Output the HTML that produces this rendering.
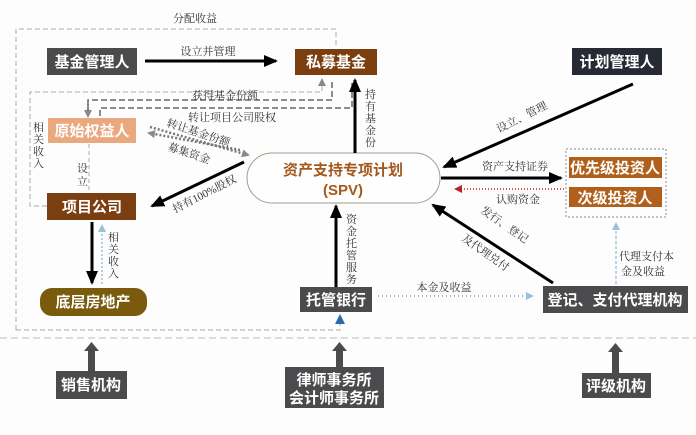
<!DOCTYPE html>
<html><head><meta charset="utf-8"><style>
html,body{margin:0;padding:0;background:#fdfdfd;}
svg{display:block;font-family:"Liberation Serif","Noto Serif CJK SC",serif;}
.b{font-family:"Liberation Sans","Noto Sans CJK SC",sans-serif;font-weight:bold;fill:#fff;font-size:15px;text-anchor:middle;}
.l{font-size:11px;fill:#333;}
</style></head><body>
<svg width="696" height="435" viewBox="0 0 696 435" xmlns="http://www.w3.org/2000/svg">
<defs>
<marker id="ab" markerWidth="14" markerHeight="12" refX="12" refY="6" orient="auto" markerUnits="userSpaceOnUse"><path d="M0,0 L14,6 L0,12 z" fill="#000"/></marker>
<marker id="ag" markerWidth="8" markerHeight="8" refX="6" refY="4" orient="auto" markerUnits="userSpaceOnUse"><path d="M0,0 L8,4 L0,8 z" fill="#888"/></marker>
<marker id="ar" markerWidth="8" markerHeight="8" refX="6" refY="4" orient="auto" markerUnits="userSpaceOnUse"><path d="M0,0 L8,4 L0,8 z" fill="#c02020"/></marker>
<marker id="al" markerWidth="8" markerHeight="8" refX="6" refY="4" orient="auto" markerUnits="userSpaceOnUse"><path d="M0,0 L8,4 L0,8 z" fill="#9cc0d8"/></marker>
<marker id="abl" markerWidth="10" markerHeight="10" refX="8" refY="5" orient="auto" markerUnits="userSpaceOnUse"><path d="M0,0 L10,5 L0,10 z" fill="#2a6aa8"/></marker>
</defs>

<path d="M16,330 L16,29 L336,29 L336,46" fill="none" stroke="#aaa" stroke-dasharray="5,3"/>
<path d="M16,330 L340,330 L340,318" fill="none" stroke="#aaa" stroke-dasharray="5,3"/>
<path d="M340,322 L340,316" stroke="#2a6aa8" stroke-width="1.5" marker-end="url(#abl)"/>
<text x="195" y="22" class="l" text-anchor="middle">分配收益</text>
<line x1="0" y1="338" x2="696" y2="338" stroke="#bbb" stroke-dasharray="7,4"/>

<path d="M47,206 L30,206 L30,92 L322,92 L322,80" fill="none" stroke="#aaa" stroke-dasharray="5,3" marker-end="url(#ag)"/>
<path d="M88,114 L88,100 L332,100 L332,80" fill="none" stroke="#666" stroke-dasharray="6,3" stroke-width="1.5"/>
<path d="M88,104 L88,116" stroke="#666" stroke-width="1.5" marker-end="url(#ag)"/>
<path d="M100,116 L100,108 L352,108 L352,80" fill="none" stroke="#666" stroke-dasharray="6,3" stroke-width="1.5"/>
<text x="225" y="99" class="l" text-anchor="middle">获得基金份额</text>
<text class="l"><tspan x="33" y="131">相</tspan><tspan x="33" y="143">关</tspan><tspan x="33" y="155">收</tspan><tspan x="33" y="167">入</tspan></text>
<line x1="89" y1="144" x2="89" y2="193" stroke="#aaa" stroke-dasharray="4,3"/>
<text class="l"><tspan x="77" y="172">设</tspan><tspan x="77" y="185">立</tspan></text>

<rect x="47" y="48" width="90" height="27" fill="#4b4b4d"/><text x="92" y="67" class="b">基金管理人</text>
<rect x="295" y="49" width="82" height="26" fill="#7a3e10"/><text x="336" y="67" class="b">私募基金</text>
<rect x="572" y="48" width="90" height="27" fill="#262a33"/><text x="617" y="67" class="b">计划管理人</text>
<rect x="48" y="118" width="88" height="25" fill="#e9a87d"/><text x="92" y="136" class="b">原始权益人</text>
<rect x="47" y="193" width="89" height="27" fill="#7a3e10"/><text x="92" y="212" class="b">项目公司</text>
<rect x="247" y="153" width="193" height="50" rx="25" fill="#fefefe" stroke="#a89a88"/>
<text x="343" y="175" class="b" style="fill:#a4581c;font-size:15px">资产支持专项计划</text>
<text x="343" y="195" class="b" style="fill:#a4581c;font-size:15px">(SPV)</text>
<rect x="566" y="149" width="100" height="68" fill="none" stroke="#888" stroke-dasharray="2,2"/>
<rect x="569" y="157" width="93" height="21" fill="#b0601a"/><text x="615" y="173" class="b">优先级投资人</text>
<rect x="569" y="187" width="93" height="20" fill="#b0601a"/><text x="615" y="203" class="b">次级投资人</text>
<rect x="40" y="288" width="107" height="28" rx="12" fill="#7a5a0c"/><text x="93" y="307" class="b">底层房地产</text>
<rect x="300" y="287" width="72" height="25" fill="#4b4b4d"/><text x="336" y="305" class="b">托管银行</text>
<rect x="543" y="286" width="145" height="27" fill="#4b4b4d"/><text x="615" y="305" class="b">登记、支付代理机构</text>
<rect x="56" y="371" width="71" height="28" fill="#4b4b4d"/><text x="91" y="390" class="b">销售机构</text>
<rect x="285" y="367" width="99" height="41" fill="#4b4b4d"/><text x="334" y="385" class="b">律师事务所</text><text x="334" y="403" class="b">会计师事务所</text>
<rect x="582" y="373" width="69" height="25" fill="#4b4b4d"/><text x="616" y="391" class="b">评级机构</text>

<g fill="#4b4b4d">
<rect x="88" y="350" width="7" height="21"/><path d="M84,351 L91.5,342 L99,351 z"/>
<rect x="336" y="350" width="7" height="17"/><path d="M332,351 L339.5,342 L347,351 z"/>
<rect x="612" y="351" width="7" height="22"/><path d="M608,352 L615.5,343 L623,352 z"/>
</g>

<line x1="145" y1="61" x2="276" y2="61" stroke="#000" stroke-width="3" marker-end="url(#ab)"/>
<text x="208" y="55" class="l" text-anchor="middle">设立并管理</text>
<line x1="355" y1="153" x2="355" y2="80" stroke="#000" stroke-width="3" marker-end="url(#ab)"/>
<text class="l"><tspan x="365" y="98">持</tspan><tspan x="365" y="110">有</tspan><tspan x="365" y="122">基</tspan><tspan x="365" y="134">金</tspan><tspan x="365" y="146">份</tspan></text>
<line x1="244" y1="162" x2="152" y2="206" stroke="#000" stroke-width="3" marker-end="url(#ab)"/>
<text class="l" transform="translate(175,213) rotate(-27)">持有100%股权</text>
<line x1="633" y1="84" x2="444" y2="167" stroke="#000" stroke-width="3" marker-end="url(#ab)"/>
<text class="l" transform="translate(499,133) rotate(-27)">设立、管理</text>
<line x1="441" y1="178" x2="561" y2="178" stroke="#000" stroke-width="3" marker-end="url(#ab)"/>
<text x="515" y="170" class="l" text-anchor="middle">资产支持证券</text>
<line x1="564" y1="189" x2="456" y2="189" stroke="#c02020" stroke-dasharray="1,2" stroke-width="1.5" marker-end="url(#ar)"/>
<text x="518" y="203" class="l" text-anchor="middle">认购资金</text>
<line x1="553" y1="283" x2="433" y2="205" stroke="#000" stroke-width="3" marker-end="url(#ab)"/>
<text class="l" transform="translate(480,212) rotate(35)">发行、登记</text>
<text class="l" transform="translate(461,240) rotate(35)">及代理兑付</text>
<line x1="336" y1="287" x2="336" y2="206" stroke="#000" stroke-width="3" marker-end="url(#ab)"/>
<text class="l"><tspan x="346" y="223">资</tspan><tspan x="346" y="235">金</tspan><tspan x="346" y="247">托</tspan><tspan x="346" y="259">管</tspan><tspan x="346" y="271">服</tspan><tspan x="346" y="283">务</tspan></text>
<line x1="378" y1="296" x2="532" y2="296" stroke="#9cb0c8" stroke-dasharray="1,3" stroke-width="2" marker-end="url(#al)"/>
<text x="444" y="291" class="l" text-anchor="middle">本金及收益</text>
<line x1="616" y1="284" x2="616" y2="224" stroke="#9cc0d8" stroke-dasharray="3,2" stroke-width="1.3" marker-end="url(#al)"/>
<text class="l"><tspan x="619" y="260">代理支付本</tspan><tspan x="621" y="275">金及收益</tspan></text>
<line x1="92" y1="222" x2="92" y2="283" stroke="#000" stroke-width="3" marker-end="url(#ab)"/>
<line x1="102" y1="284" x2="102" y2="226" stroke="#9cc0d8" stroke-dasharray="2,2" stroke-width="1.5" marker-end="url(#al)"/>
<text class="l"><tspan x="108" y="241">相</tspan><tspan x="108" y="253">关</tspan><tspan x="108" y="265">收</tspan><tspan x="108" y="277">入</tspan></text>

<line x1="150" y1="127" x2="248" y2="155" stroke="#777" stroke-dasharray="2,2" stroke-width="2.5" marker-end="url(#ag)"/>
<line x1="240" y1="150" x2="149" y2="133" stroke="#777" stroke-dasharray="2,2" stroke-width="2.5" marker-end="url(#ag)"/>
<text x="188" y="121" class="l">转让项目公司股权</text>
<text class="l" transform="translate(166,126) rotate(18)">转让基金份额</text>
<text class="l" transform="translate(167,150) rotate(18)">募集资金</text>
</svg>
</body></html>
